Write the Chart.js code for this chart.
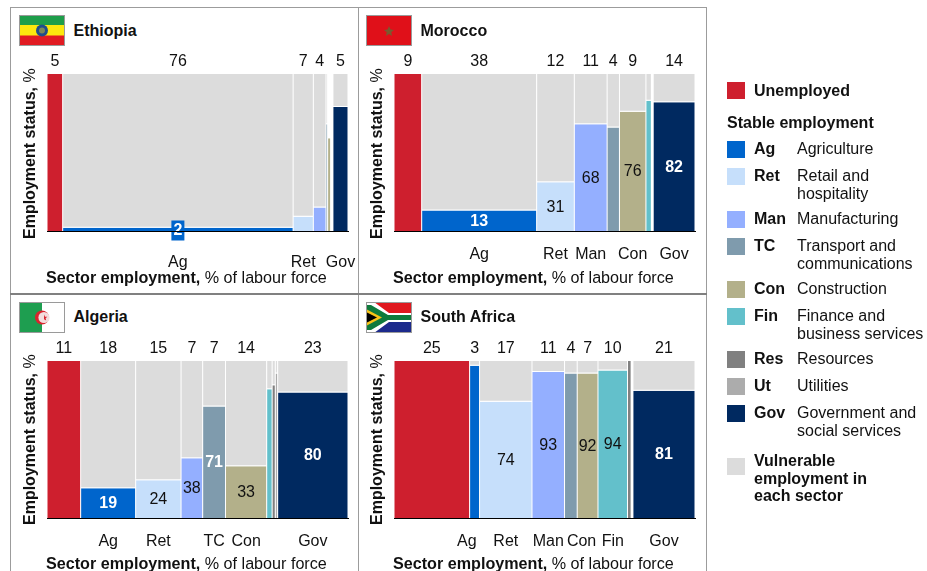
<!DOCTYPE html>
<html><head><meta charset="utf-8">
<style>
html,body{margin:0;padding:0;background:#fff;}
body{width:927px;height:571px;overflow:hidden;position:relative;font-family:"Liberation Sans",Arial,sans-serif;color:#111;}
.abs{position:absolute;white-space:nowrap;}
canvas{position:absolute;}
.title{font-weight:bold;font-size:16px;line-height:18px;}
.axt{font-size:16.15px;line-height:18px;}
.yt{writing-mode:vertical-rl;transform:rotate(180deg);width:18px;height:173px;font-size:16px;line-height:18px;}
.lg{font-size:16px;line-height:17.3px;}
.sw{position:absolute;width:18px;height:17px;}
.fr{position:absolute;background:#9c9c9c;}
</style></head><body>
<div id="root"></div>
<script src="https://cdn.jsdelivr.net/npm/chart.js@4/dist/chart.umd.min.js"></script>
<script>
const sectorColors={Un:'#CE1F2E',Ag:'#0065CC',Ret:'#C6DFFB',Man:'#94AFFF',TC:'#7F9BAD',Con:'#B3B08A',Fin:'#63C0CB',Res:'#808080',Ut:'#ACACAC',Gov:'#002960'};
const vulnerableColor='#DCDCDC';

const ethiopiaSectors=['Un','Ag','Ret','Man','TC','Con','Fin','Gov'];
const ethiopiaWidths=[5.2,76.4,6.7,4.2,0.55,1.0,0.75,5.0];
const ethiopiaStable=[100,2,9,15,68,59,0,79];
const ethiopiaVulnerable=[0,98,91,85,32,0,0,21];
const ethiopiaTop=['5','76','7','4','','','','5'];
const ethiopiaBottom=['','Ag','Ret','','','','','Gov'];
const ethiopiaInside=['','2','','','','','',''];

const moroccoSectors=['Un','Ag','Ret','Man','TC','Con','Fin','Res','Gov'];
const moroccoWidths=[9.2,38.2,12.5,10.9,4.1,8.8,1.8,0.6,13.9];
const moroccoStable=[100,13,31,68,66,76,83,0,82];
const moroccoVulnerable=[0,87,69,32,34,24,17,0,18];
const moroccoTop=['9','38','12','11','4','9','','','14'];
const moroccoBottom=['','Ag','Ret','Man','','Con','','','Gov'];
const moroccoInside=['','13','31','68','','76','','','82'];

const algeriaSectors=['Un','Ag','Ret','Man','TC','Con','Fin','Res','Ut','Gov'];
const algeriaWidths=[11.2,18.3,15.1,7.2,7.6,13.7,1.8,1.05,0.8,23.4];
const algeriaStable=[100,19,24,38,71,33,82,84.5,92,80];
const algeriaVulnerable=[0,81,76,62,29,67,18,15.5,8,20];
const algeriaTop=['11','18','15','7','7','14','','','','23'];
const algeriaBottom=['','Ag','Ret','','TC','Con','','','','Gov'];
const algeriaInside=['','19','24','38','71','33','','','','80'];

const southAfricaSectors=['Un','Ag','Ret','Man','TC','Con','Fin','Res','Ut','Gov'];
const southAfricaWidths=[25.1,3.3,17.4,10.8,4.2,6.9,9.8,1.2,0.6,20.6];
const southAfricaStable=[100,97,74,93,92,92,94,100,0,81];
const southAfricaVulnerable=[0,3,26,7,8,8,6,0,0,19];
const southAfricaTop=['25','3','17','11','4','7','10','','','21'];
const southAfricaBottom=['','Ag','Ret','Man','','Con','Fin','','','Gov'];
const southAfricaInside=['','','74','93','','92','94','','','81'];
const southAfricaLabelShift=[0,-2.6,0,0,0,-2,0,0,0,0];

const darkInside=['Ag','TC','Gov'];

const legendCodes=['Ag','Ret','Man','TC','Con','Fin','Res','Ut','Gov'];
const legendNames=[['Agriculture'],['Retail and','hospitality'],['Manufacturing'],['Transport and','communications'],['Construction'],['Finance and','business services'],['Resources'],['Utilities'],['Government and','social services']];

const FONT='"Liberation Sans",Arial,sans-serif';
const TXT='#111';
const FS=16;

class MekkoController extends Chart.BarController{
  _calculateBarIndexPixels(index){
    const s=this._cachedMeta.iScale,e=this.getDataset().edges;
    const a=s.getPixelForValue(e[index]),b=s.getPixelForValue(e[index+1]);
    return {base:a,head:b,center:(a+b)/2,size:b-a};
  }
}
MekkoController.id='mekko';
Chart.register(MekkoController);

const root=document.getElementById('root');
function add(cls,style,html){const d=document.createElement('div');d.className=cls;d.style.cssText=style;d.innerHTML=html||'';root.appendChild(d);return d;}

const insidePlugin={id:'inside',afterDatasetsDraw(chart,a,o){
  const {ctx,scales:{x,y}}=chart;
  o.inside.forEach((t,i)=>{
    if(!t)return;
    const cx=x.getPixelForValue((o.edges[i]+o.edges[i+1])/2);
    const dark=darkInside.includes(o.sectors[i]);
    let cy=y.getPixelForValue(o.stable[i]/2);
    ctx.save();
    ctx.font=(dark?'bold ':'')+FS+'px '+FONT;
    ctx.textAlign='center';ctx.textBaseline='middle';
    if(o.stable[i]<5){
      cy=y.getPixelForValue(0)-1;
      ctx.fillStyle=sectorColors[o.sectors[i]];
      ctx.fillRect(cx-6.5,cy-9.5,13,20);
    }
    ctx.fillStyle=dark?'#fff':TXT;
    ctx.fillText(t,cx,cy+0.5);
    ctx.restore();
  });
}};

function panel(p){
  const sum=p.widths.reduce((a,b)=>a+b,0);
  const edges=[0];p.widths.forEach(w=>edges.push(edges[edges.length-1]+w));
  const centers=p.widths.map((w,i)=>edges[i]+w/2);
  const shift=p.shift||p.widths.map(()=>0);
  const mt=34,mb=46;
  const cx=p.l-36,cy=p.t-mt,W=p.r-p.l+36+14,H=p.b-p.t+mt+mb;
  const cv=document.createElement('canvas');
  cv.width=W;cv.height=H;cv.style.cssText=`left:${cx}px;top:${cy}px;width:${W}px;height:${H}px;`;
  root.appendChild(cv);
  const fit=h=>s=>{s.height=h;s.paddingLeft=0;s.paddingRight=0;};
  new Chart(cv,{
    type:'mekko',
    data:{datasets:[
      {label:'Stable employment',edges,data:p.stable.map((v,i)=>({x:centers[i],y:v})),backgroundColor:p.sectors.map(s=>sectorColors[s]),borderColor:'#fff',borderWidth:{left:0.5,right:0.5,top:0,bottom:0},borderSkipped:false,inflateAmount:0},
      {label:'Vulnerable employment',edges,data:p.vulnerable.map((v,i)=>({x:centers[i],y:v})),backgroundColor:vulnerableColor,borderColor:'#fff',borderWidth:{left:0.5,right:0.5,top:0,bottom:1},borderSkipped:false,inflateAmount:0}
    ]},
    options:{
      responsive:false,animation:false,devicePixelRatio:1,
      layout:{padding:{left:p.l-cx,right:cx+W-p.r,top:0,bottom:0}},
      plugins:{legend:{display:false},tooltip:{enabled:false},inside:{inside:p.inside,edges,sectors:p.sectors,stable:p.stable}},
      scales:{
        x:{type:'linear',position:'bottom',min:0,max:sum,offset:false,grid:{display:false,drawTicks:false},
          border:{display:true,color:'#000',width:1,z:2},
          afterFit:fit(mb),
          afterBuildTicks:a=>{a.ticks=centers.map((c,i)=>({value:c+shift[i]}));},
          ticks:{autoSkip:false,maxRotation:0,minRotation:0,padding:p.tickPad,color:TXT,font:{family:FONT,size:FS},callback:(v,i)=>p.bottom[i]}},
        xTop:{type:'linear',position:'top',min:0,max:sum,offset:false,grid:{display:false,drawTicks:false},
          border:{display:false},
          afterFit:fit(mt),
          afterBuildTicks:a=>{a.ticks=centers.map(c=>({value:c}));},
          ticks:{autoSkip:false,maxRotation:0,minRotation:0,padding:2.5,color:TXT,font:{family:FONT,size:FS},callback:(v,i)=>p.top[i]}},
        y:{type:'linear',stacked:true,min:0,max:100,display:false}
      }
    },
    plugins:[insidePlugin]
  });
  add('abs title',`left:${p.l+27}px;top:${p.t-52.5}px;`,p.name);
  add('abs axt',`left:${p.l-0.5}px;top:${p.xTitleY-9}px;`,'<b>Sector employment,</b> % of labour force');
  add('abs yt',`left:${p.l-25.5}px;top:${p.t-8.5}px;`,'<b>Employment status,</b> %');
  add('abs',`left:${p.l-27.5}px;top:${p.t-59}px;width:46px;height:31px;line-height:0;`,p.flag);
}

const flagBox='stroke="#9a9a9a" stroke-width="1" fill="none"';
const flags={
 et:`<svg width="46" height="31" viewBox="0 0 46 31"><rect width="46" height="11" fill="#1E9E4A"/><rect y="10" width="46" height="11" fill="#FCE80E"/><rect y="20.5" width="46" height="10.5" fill="#E11B22"/><circle cx="23" cy="15.5" r="6" fill="#1F4E8C"/><circle cx="23" cy="15.5" r="3" fill="#7A8A5A"/><rect x=".5" y=".5" width="45" height="30" ${flagBox}/></svg>`,
 ma:`<svg width="46" height="31" viewBox="0 0 46 31"><rect width="46" height="31" fill="#E01019"/><polygon points="23,11 24.5,14.5 28,15 25.3,17.3 26,21 23,19 20,21 20.7,17.3 18,15 21.5,14.5" fill="#7A5A30"/><rect x=".5" y=".5" width="45" height="30" ${flagBox}/></svg>`,
 dz:`<svg width="46" height="31" viewBox="0 0 46 31"><rect width="23" height="31" fill="#1E9E50"/><rect x="23" width="23" height="31" fill="#fff"/><circle cx="23" cy="15.5" r="7" fill="#D9252E"/><circle cx="25" cy="15.5" r="5.6" fill="#F3DDDD"/><polygon points="25,12.5 26,14.7 28.3,14.8 26.6,16.2 27.2,18.5 25,17.2" fill="#D9252E"/><rect x=".5" y=".5" width="45" height="30" ${flagBox}/></svg>`,
 za:`<svg width="46" height="31" viewBox="0 0 46 31"><rect width="46" height="15.5" fill="#E0181F"/><rect y="15.5" width="46" height="15.5" fill="#1C2A8C"/><polygon points="0,0 8,0 23,11 46,11 46,20 23,20 8,31 0,31" fill="#fff"/><polygon points="0,3 5,3 22,13 46,13 46,18 22,18 5,28 0,28" fill="#0F7A3C"/><polygon points="0,7 16,15.5 0,24" fill="#F7C318"/><polygon points="0,10 11,15.5 0,21" fill="#000"/><rect x=".5" y=".5" width="45" height="30" ${flagBox}/></svg>`
};

panel({name:'Ethiopia',l:46.5,r:348,t:74,b:231,tickPad:22,xTitleY:276.7,flag:flags.et,sectors:ethiopiaSectors,widths:ethiopiaWidths,stable:ethiopiaStable,vulnerable:ethiopiaVulnerable,top:ethiopiaTop,bottom:ethiopiaBottom,inside:ethiopiaInside});
panel({name:'Morocco',l:393.5,r:695,t:74,b:231,tickPad:14,xTitleY:276.7,flag:flags.ma,sectors:moroccoSectors,widths:moroccoWidths,stable:moroccoStable,vulnerable:moroccoVulnerable,top:moroccoTop,bottom:moroccoBottom,inside:moroccoInside});
panel({name:'Algeria',l:46.5,r:348,t:360.5,b:518,tickPad:14,xTitleY:562.7,flag:flags.dz,sectors:algeriaSectors,widths:algeriaWidths,stable:algeriaStable,vulnerable:algeriaVulnerable,top:algeriaTop,bottom:algeriaBottom,inside:algeriaInside});
panel({name:'South Africa',l:393.5,r:695,t:360.5,b:518,tickPad:14,xTitleY:562.7,flag:flags.za,sectors:southAfricaSectors,widths:southAfricaWidths,stable:southAfricaStable,vulnerable:southAfricaVulnerable,top:southAfricaTop,bottom:southAfricaBottom,inside:southAfricaInside,shift:southAfricaLabelShift});

// frame
add('fr','left:10px;top:7px;width:696.5px;height:1px;');
add('fr','left:10px;top:7px;width:1px;height:564px;');
add('fr','left:358px;top:7px;width:1px;height:564px;');
add('fr','left:706px;top:7px;width:1px;height:564px;');
add('fr','left:10px;top:293px;width:697px;height:1.5px;background:#808080;');

// legend
const legendRows=[149,176,219,246,289,316,359,386,413];
function lgText(x,y,html){add('abs lg',`left:${x}px;top:${y-8.65}px;`,html);}
add('sw',`left:727px;top:82px;background:${sectorColors.Un};`);
lgText(754,90.5,'<b>Unemployed</b>');
lgText(727,122.7,'<b>Stable employment</b>');
legendCodes.forEach((c,i)=>{
  const y=legendRows[i];
  add('sw',`left:727px;top:${y-8}px;background:${sectorColors[c]};`);
  lgText(754,y,'<b>'+c+'</b>');
  legendNames[i].forEach((t,j)=>lgText(797,y+j*17.3,t));
});
add('sw',`left:727px;top:458px;background:${vulnerableColor};`);
['Vulnerable','employment in','each sector'].forEach((t,j)=>lgText(754,461+j*17.5,'<b>'+t+'</b>'));
</script>
</body></html>
